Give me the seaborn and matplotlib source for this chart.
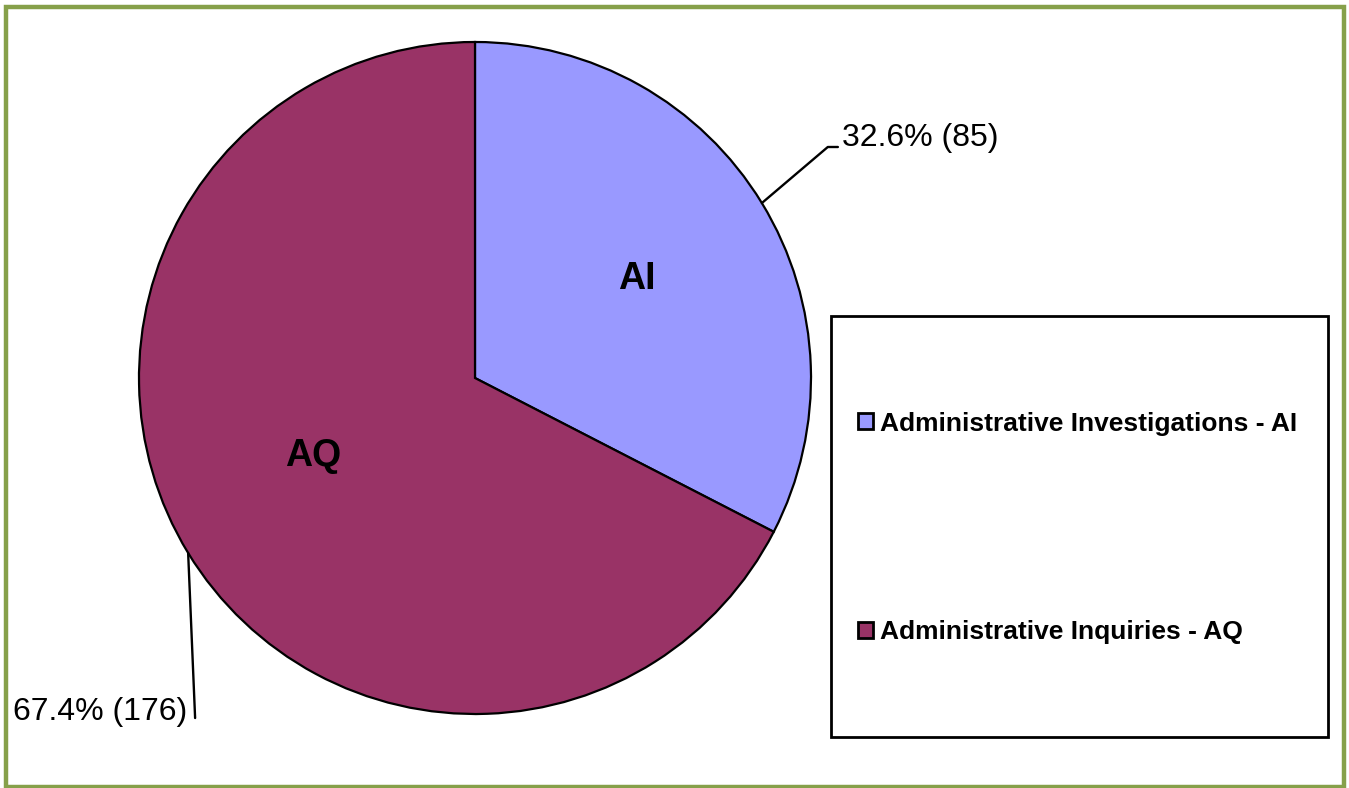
import numpy as np
import matplotlib
matplotlib.use("Agg")
import matplotlib.pyplot as plt
from matplotlib.patches import Rectangle, Patch
import seaborn as sns

# data
categories = ["Administrative Investigations - AI", "Administrative Inquiries - AQ"]
short_names = ["AI", "AQ"]
counts = [85, 176]
colors = ["#9999FF", "#993366"]

sns.set_theme(style="white")
plt.rcParams['font.family'] = ['Liberation Sans', 'DejaVu Sans']

W, H = 1349, 788
fig = plt.figure(figsize=(W / 100, H / 100), dpi=100)

# olive page frame
fig.patches.append(Rectangle((5.5 / W, 1.5 / H), 1338 / W, 780 / H, transform=fig.transFigure,
                             fill=False, edgecolor="#86A04A", linewidth=3.2))

# pie axes: centre (475, 378) px, radius 336 px
cx, cy, r = 475, 378, 336
ax = fig.add_axes([(cx - r) / W, (H - cy - r) / H, 2 * r / W, 2 * r / H])

wedges, _ = ax.pie(counts, colors=colors, startangle=90, counterclock=False, radius=1,
                   wedgeprops=dict(edgecolor="black", linewidth=1.6))
ax.set_xlim(-1, 1)
ax.set_ylim(-1, 1)
ax.axis("off")

total = sum(counts)
pct = [c / total * 100 for c in counts]

# labels inside the slices
inner_pos = [(0.565, 0.0), (0.535, -5.5)]
for w, name, (dist, shift) in zip(wedges, short_names, inner_pos):
    ang = np.deg2rad((w.theta1 + w.theta2) / 2 + shift)
    ax.text(dist * np.cos(ang), dist * np.sin(ang), name, ha="center", va="center",
            fontsize=27, fontweight="bold", color="black")

# outside labels with leader lines
mids = [np.deg2rad((w.theta1 + w.theta2) / 2) for w in wedges]

# AI
x0, y0 = np.cos(mids[0]), np.sin(mids[0])
ax.plot([x0, 1.05, 1.08], [y0, 0.6875, 0.6875], color="black", lw=1.7, clip_on=False)
ax.text(1.092, 0.715, "{:.1f}% ({})".format(pct[0], counts[0]), ha="left", va="center",
        fontsize=23, color="black")

# AQ
x1, y1 = np.cos(mids[1]), np.sin(mids[1])
ax.plot([x1, -0.833], [y1, -1.012], color="black", lw=1.7, clip_on=False)
ax.text(-0.855, -0.995, "{:.1f}% ({})".format(pct[1], counts[1]), ha="right", va="center",
        fontsize=23, color="black")

# legend box
fig.patches.append(Rectangle((831 / W, (H - 737) / H), 497 / W, 421 / H, transform=fig.transFigure,
                             fill=False, edgecolor="black", linewidth=2))
handles = [Patch(facecolor=c, edgecolor="black", linewidth=2) for c in colors]
fig.legend(handles, categories, loc="center left", bbox_to_anchor=(858 / W, 1 - 528 / H),
           frameon=False, borderpad=0, borderaxespad=0, labelspacing=7.0,
           handlelength=0.55, handleheight=0.55, handletextpad=0.3, labelcolor="black",
           prop=dict(size=19, weight="bold"))

fig.savefig("out.png", dpi=100, facecolor="white")
